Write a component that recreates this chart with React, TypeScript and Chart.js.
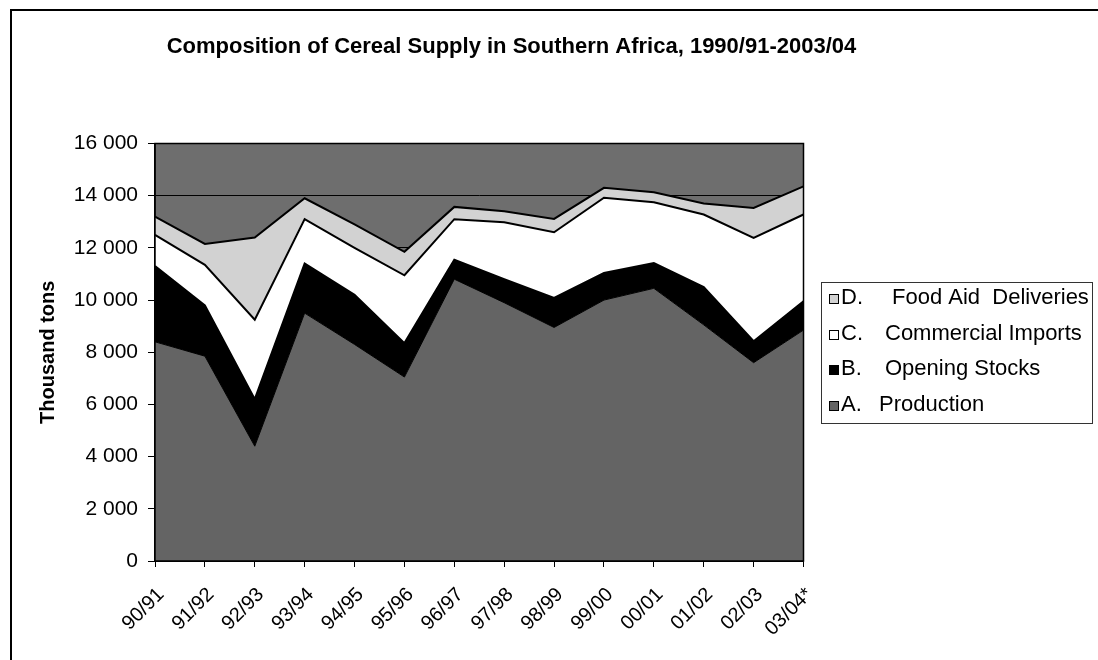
import React, { useEffect, useRef } from "react";
import { Chart, registerables } from "chart.js";

Chart.register(...registerables);

// ---- Data (thousand tons) ----
const categories = ["90/91", "91/92", "92/93", "93/94", "94/95", "95/96", "96/97", "97/98", "98/99", "99/00", "00/01", "01/02", "02/03", "03/04*"];
const production = [8400, 7850, 4400, 9500, 8300, 7050, 10800, 9900, 8950, 10000, 10450, 9050, 7600, 8850];
const openingStocks = [2900, 1950, 1800, 1900, 1900, 1300, 750, 900, 1130, 1040, 970, 1450, 820, 1100];
const commercialImports = [1200, 1550, 3050, 1700, 1800, 2600, 1550, 2180, 2520, 2880, 2330, 2780, 3960, 3330];
const foodAid = [700, 800, 3150, 800, 900, 900, 470, 420, 510, 380, 380, 420, 1150, 1080];

const yMin = 0;
const yMax = 16000;
const yStep = 2000;

const titleText = "Composition of Cereal Supply in Southern Africa, 1990/91-2003/04";
const yTitle = "Thousand tons";
const legendPrefixes = ["D.", "C.", "B.", "A."];
const legendNames = ["Food Aid  Deliveries", "Commercial Imports", "Opening Stocks", "Production"];

const FONT = "'Liberation Sans', Arial, Helvetica, sans-serif";
const BG_COLOR = "#6e6e6e";
const A_COLOR = "#646464";
const B_COLOR = "#000000";
const C_COLOR = "#ffffff";
const D_COLOR = "#d2d2d2";

const fmt = (v: number) => {
  if (v === 0) return "0";
  const th = Math.floor(v / 1000);
  const rest = String(v % 1000).padStart(3, "0");
  return `${th} ${rest}`;
};

const decorPlugin = {
  id: "decor",
  beforeDraw(chart: any) {
    const { ctx, chartArea, width, height } = chart;
    ctx.save();
    ctx.fillStyle = "#ffffff";
    ctx.fillRect(0, 0, width, height);
    ctx.fillStyle = BG_COLOR;
    ctx.fillRect(chartArea.left, chartArea.top, chartArea.right - chartArea.left, chartArea.bottom - chartArea.top);
    ctx.restore();
  },
  afterDatasetsDraw(chart: any) {
    const { ctx, chartArea } = chart;
    ctx.save();
    ctx.strokeStyle = "#000";
    ctx.lineWidth = 1.5;
    ctx.strokeRect(chartArea.left, chartArea.top, chartArea.right - chartArea.left, chartArea.bottom - chartArea.top);
    ctx.restore();
  },
  afterDraw(chart: any) {
    const { ctx, width, height } = chart;
    ctx.save();
    // outer frame (top and left edges visible)
    ctx.strokeStyle = "#000";
    ctx.lineWidth = 2;
    ctx.beginPath();
    ctx.moveTo(11, height);
    ctx.lineTo(11, 10);
    ctx.lineTo(width, 10);
    ctx.stroke();

    // title
    ctx.fillStyle = "#000";
    ctx.font = `bold 22px ${FONT}`;
    ctx.textAlign = "center";
    ctx.textBaseline = "alphabetic";
    ctx.fillText(titleText, 511.5, 53);

    // legend
    const bx = 821, by = 282, bw = 271, bh = 141;
    ctx.lineWidth = 1;
    ctx.strokeStyle = "#333";
    ctx.fillStyle = "#fff";
    ctx.fillRect(bx, by, bw, bh);
    ctx.strokeRect(bx + 0.5, by + 0.5, bw, bh);
    const colors = [D_COLOR, C_COLOR, B_COLOR, A_COLOR];
    const ys = [298, 334, 369, 405];
    const nameX = [892, 885, 885, 879];
    ctx.font = `22px ${FONT}`;
    ctx.textAlign = "left";
    ctx.textBaseline = "middle";
    for (let i = 0; i < 4; i++) {
      const y = ys[i];
      ctx.fillStyle = colors[i];
      ctx.fillRect(829, y - 4, 10, 10);
      ctx.strokeStyle = "#000";
      ctx.strokeRect(829.5, y - 3.5, 9, 9);
      ctx.fillStyle = "#000";
      ctx.fillText(legendPrefixes[i], 841, y);
      ctx.fillText(legendNames[i], nameX[i], y);
    }
    ctx.restore();
  },
};

export default function App() {
  const canvasRef = useRef<HTMLCanvasElement | null>(null);

  useEffect(() => {
    document.body.style.margin = "0";
    const canvas = canvasRef.current;
    if (!canvas) return;
    const chart = new Chart(canvas, {
      type: "line",
      data: {
        labels: categories,
        datasets: [
          { label: "A. Production", data: production, fill: "origin", backgroundColor: A_COLOR, borderColor: "#000", borderWidth: 1, pointRadius: 0, tension: 0 },
          { label: "B. Opening Stocks", data: openingStocks, fill: "-1", backgroundColor: B_COLOR, borderColor: "#000", borderWidth: 2, pointRadius: 0, tension: 0 },
          { label: "C. Commercial Imports", data: commercialImports, fill: "-1", backgroundColor: C_COLOR, borderColor: "#000", borderWidth: 2, pointRadius: 0, tension: 0 },
          { label: "D. Food Aid Deliveries", data: foodAid, fill: "-1", backgroundColor: D_COLOR, borderColor: "#000", borderWidth: 2, pointRadius: 0, tension: 0 },
        ],
      },
      options: {
        responsive: false,
        animation: false,
        devicePixelRatio: 1,
        layout: { padding: { left: 0, right: 294.5, top: 143.5, bottom: 0 } },
        plugins: {
          legend: { display: false },
          title: { display: false },
          tooltip: { enabled: false },
        },
        elements: { line: { borderJoinStyle: "miter" } },
        scales: {
          x: {
            type: "category",
            offset: false,
            grid: { display: true, drawOnChartArea: false, drawTicks: true, tickLength: 6, color: "#000", offset: false },
            border: { display: true, color: "#000", width: 1.5 },
            ticks: { minRotation: 45, maxRotation: 45, autoSkip: false, font: { family: FONT, size: 20 }, color: "#000", padding: 16, labelOffset: 6 },
            afterFit: (s: any) => { s.height = 99; },
          },
          y: {
            stacked: true,
            min: yMin,
            max: yMax,
            ticks: { stepSize: yStep, callback: (v: any) => fmt(Number(v)), font: { family: FONT, size: 21 }, color: "#000", padding: 10 },
            grid: { color: "#000", lineWidth: 1, tickLength: 7, drawTicks: true },
            border: { display: true, color: "#000", width: 1.5 },
            title: { display: true, text: yTitle, font: { family: FONT, size: 20, weight: "bold" }, color: "#000", padding: { top: 36, bottom: 0 } },
            afterFit: (s: any) => { s.width = 155; },
          },
        },
      },
      plugins: [decorPlugin],
    } as any);
    return () => chart.destroy();
  }, []);

  return (
    <div style={{ width: 1098, height: 660, position: "relative" }}>
      <canvas ref={canvasRef} width={1098} height={660} style={{ display: "block" }} />
    </div>
  );
}
